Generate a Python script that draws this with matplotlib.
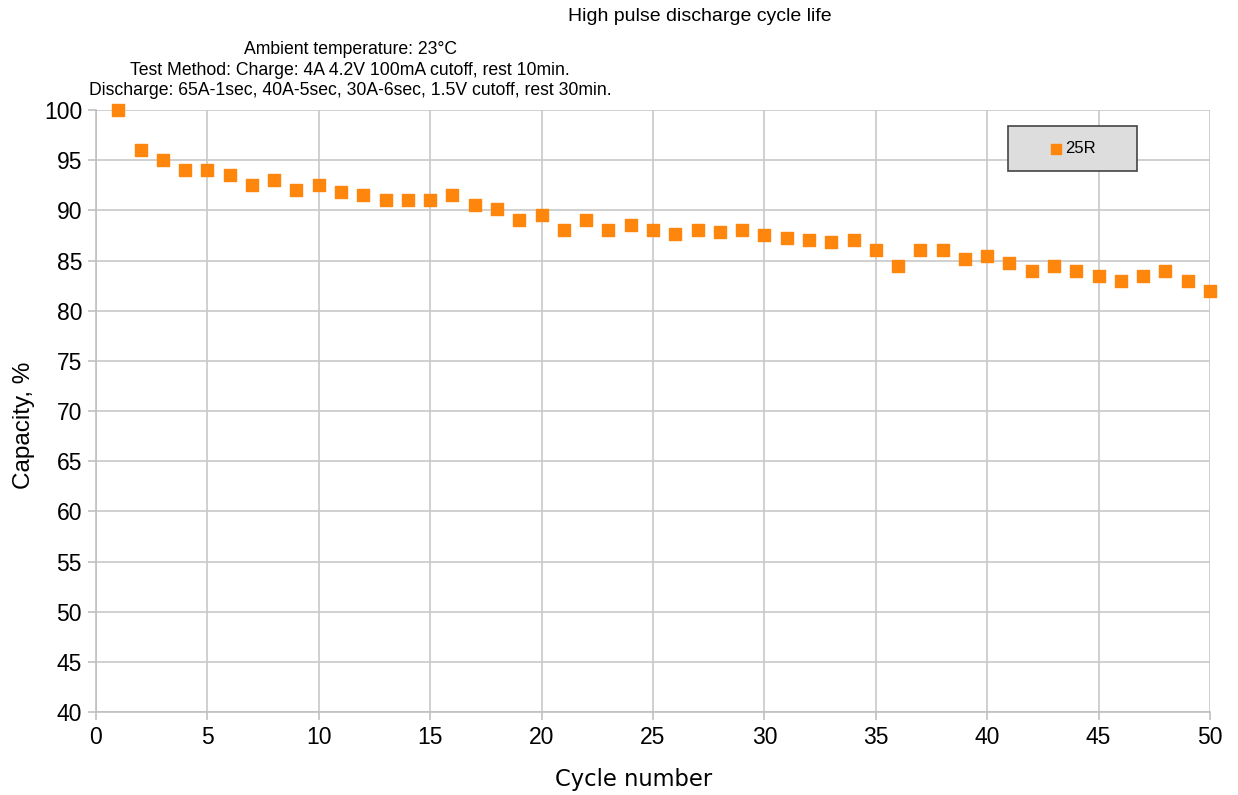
import matplotlib
matplotlib.use("Agg")
import matplotlib.pyplot as plt
from matplotlib.patches import Rectangle

# capacity per cycle
cycles = list(range(1, 51))
capacity = [100, 96, 95, 94, 94, 93.5, 92.5, 93, 92, 92.5,
            91.8, 91.5, 91, 91, 91, 91.5, 90.5, 90.1, 89, 89.5,
            88, 89, 88, 88.5, 88, 87.6, 88, 87.8, 88, 87.5,
            87.2, 87, 86.8, 87, 86, 84.5, 86, 86, 85.2, 85.5,
            84.8, 84, 84.5, 84, 83.5, 83, 83.5, 84, 83, 82]
series_name = "25R"
x_ticks = list(range(0, 51, 5))
y_ticks = list(range(40, 101, 5))

plt.rcParams['font.family'] = ['Liberation Sans', 'DejaVu Sans']

fig = plt.figure(figsize=(12.38, 7.95), dpi=100)
ax = fig.add_axes([0.0775, 0.1044, 0.8999, 0.7572])

ax.scatter(cycles, capacity, marker='s', s=85, color='#ff860d', zorder=3,
           label=series_name, clip_on=False)

ax.set_xlim(0, 50)
ax.set_ylim(40, 100)
ax.set_xticks(x_ticks)
ax.set_yticks(y_ticks)
ax.tick_params(labelsize=16.5, length=6, color='#c0c0c0', width=1.2, pad=4)
ax.grid(True, color='#c8c8c8', linewidth=1.2)
ax.set_axisbelow(True)
for side in ['top', 'right']:
    ax.spines[side].set_visible(False)
for side in ['left', 'bottom']:
    ax.spines[side].set_color('#c0c0c0')
    ax.spines[side].set_linewidth(1.2)

ax.set_xlabel("Cycle number", fontsize=16.3, family=['DejaVu Sans'])
ax.xaxis.set_label_coords(0.483, -0.093)
ax.set_ylabel("Capacity, %", fontsize=17.5)
ax.yaxis.set_label_coords(-0.055, 0.477)

fig.text(0.565, 0.990, "High pulse discharge cycle life", ha='center', va='top', fontsize=14)
fig.text(0.283, 0.948, "Ambient temperature: 23°C\nTest Method: Charge: 4A 4.2V 100mA cutoff, rest 10min.\n"
         "Discharge: 65A-1sec, 40A-5sec, 30A-6sec, 1.5V cutoff, rest 30min.",
         ha='center', va='top', fontsize=12.7, linespacing=1.27)

# legend box drawn as a patch, legend entries centred in it
box = (0.8187, 0.8987, 0.1158, 0.0748)
ax.add_patch(Rectangle(box[:2], box[2], box[3], transform=ax.transAxes,
                       facecolor='#dddddd', edgecolor='#444444', linewidth=1.2,
                       zorder=4, clip_on=False))
leg = ax.legend(loc='center', bbox_to_anchor=(box[0] + box[2] / 2 - 0.0027, box[1] + box[3] / 2),
                fontsize=12, frameon=False, handletextpad=-0.2, markerscale=0.8,
                borderpad=0, handlelength=1.5)
leg.set_zorder(5)

fig.savefig("out.png", dpi=100)
